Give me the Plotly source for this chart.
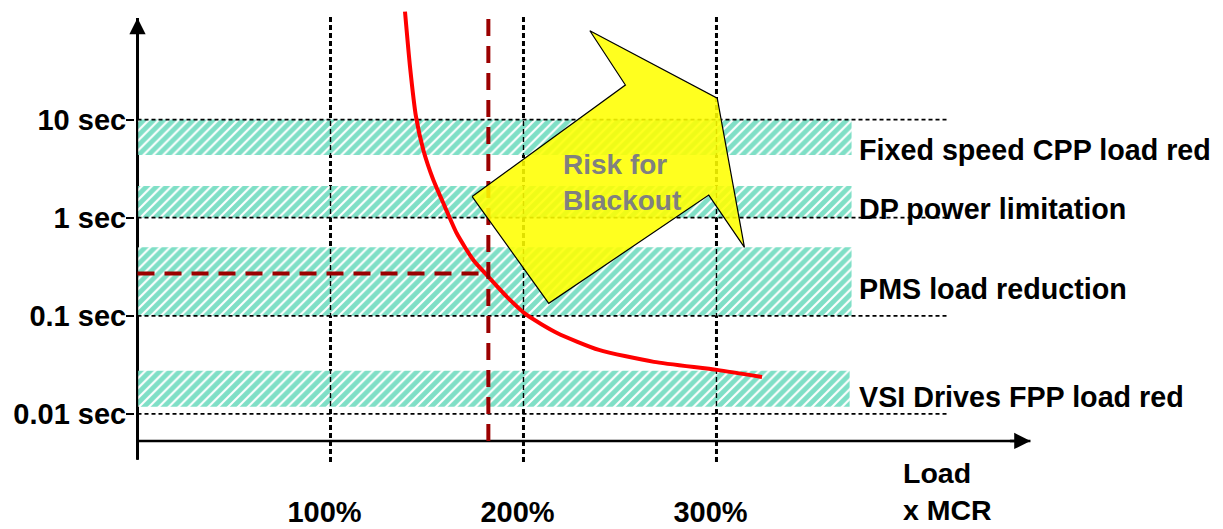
import numpy as np
import plotly.graph_objects as go

# ---------------- data ----------------
x_ticks = [100, 200, 300]
x_ticklabels = ["100%", "200%", "300%"]
y_ticks = [10, 1, 0.1, 0.01]
y_ticklabels = ["10 sec", "1 sec", "0.1 sec", "0.01 sec"]

# overload capability curve (load % MCR vs time, s)
curve_load = [138.6, 141.2, 144.3, 148.1, 153.3, 159.3, 165.4, 174.0, 181.8, 191.3,
              201.7, 217.4, 239.1, 267.6, 300.3, 323.6]
curve_time = [125.9, 34.6, 10.7, 4.90, 2.42, 1.29, 0.693, 0.371, 0.250, 0.157,
              0.102, 0.0668, 0.0449, 0.0339, 0.0281, 0.0238]

# load reduction bands
band_labels = ["Fixed speed CPP load red", "DP power limitation",
               "PMS load reduction", "VSI Drives FPP load red"]
band_top = [10, 2.1, 0.50, 0.0275]
band_bottom = [4.36, 1.0, 0.1, 0.0118]
band_label_y = [4.9, 1.23, 0.1875, 0.01486]
band_end = [370, 370, 370, 369]
band_label_x = 373.0

# operating limit (red dashed)
limit_load = 181.8
limit_time = 0.27
limit_top = 116

# "Risk for Blackout" arrow outline (load %, time s)
arrow_load = [173.4, 252.8, 234.4, 300.4, 314.5, 296.0, 213.1]
arrow_time = [1.64, 22.5, 80.5, 16.5, 0.499, 1.70, 0.134]
risk_text = "Risk for<br>Blackout"
risk_pos = (219.5, 2.26)

# axes extents
grid_end = 420
xaxis_end = 462.7
xaxis_level = 0.0053
yaxis_bottom, yaxis_top = 0.0034, 108.6
vline_bottom, vline_top = 0.00324, 113.7
xtitle = "Load<br>x MCR"
xtitle_x = 395.5
xtitle_paper_y = -0.047

FONT = "Liberation Sans"
HATCH = "#00BF8E"

fig = go.Figure()

def line(x, y, color="black", width=2, dash=None):
    fig.add_trace(go.Scatter(x=x, y=y, mode="lines",
                             line=dict(color=color, width=width, dash=dash),
                             hoverinfo="skip", showlegend=False))

# thick layers below the bands
for xv in x_ticks:
    line([xv, xv], [vline_bottom, vline_top], width=3, dash="5px,3px")
line([0, 0], [yaxis_bottom, yaxis_top], width=3)

# hatched bands
for top, bot, end in zip(band_top, band_bottom, band_end):
    fig.add_trace(go.Scatter(
        x=[0, end, end, 0, 0], y=[top, top, bot, bot, top],
        mode="lines", line=dict(width=0), fill="toself",
        fillcolor="white",
        fillpattern=dict(shape="/", fgcolor=HATCH, bgcolor="white",
                         size=7, solidity=0.7),
        hoverinfo="skip", showlegend=False))

# thin layers above the bands
for xv in x_ticks:
    line([xv, xv], [vline_bottom, vline_top], width=1.4, dash="5px,3px")
line([0, 0], [yaxis_bottom, yaxis_top], width=1.4)

# horizontal dashed levels
for yv in y_ticks:
    line([0, grid_end], [yv, yv], width=1.8, dash="4px,3px")

# x axis line
line([0, xaxis_end], [xaxis_level, xaxis_level], width=2.5)

# capability curve
fig.add_trace(go.Scatter(x=curve_load, y=curve_time, mode="lines",
                         line=dict(color="#FF0000", width=4, shape="spline", smoothing=0.6),
                         hoverinfo="skip", showlegend=False))

# limit lines
line([limit_load, limit_load], [xaxis_level, limit_top], color="#9B0000", width=4, dash="17px,10px")
line([0, limit_load], [limit_time, limit_time], color="#9B0000", width=4, dash="17px,10px")

# risk arrow
fig.add_trace(go.Scatter(x=arrow_load + arrow_load[:1], y=arrow_time + arrow_time[:1],
                         mode="lines", fill="toself",
                         fillcolor="rgba(255,255,0,0.88)",
                         line=dict(color="black", width=1.2),
                         hoverinfo="skip", showlegend=False))

BOLD = dict(family=FONT, color="black", weight="bold")
annotations = []
for lab, yv in zip(band_labels, band_label_y):
    annotations.append(dict(x=band_label_x, y=np.log10(yv), xref="x", yref="y",
                            text=lab, showarrow=False, xanchor="left", yanchor="middle",
                            font=dict(size=28.7, **BOLD)))
annotations.append(dict(x=risk_pos[0], y=np.log10(risk_pos[1]), xref="x", yref="y",
                        text=risk_text, showarrow=False, xanchor="left", yanchor="middle",
                        align="left",
                        font=dict(size=28, family=FONT, color="#808080", weight="bold")))
annotations.append(dict(x=xtitle_x, y=xtitle_paper_y, xref="x", yref="paper",
                        text=xtitle, showarrow=False, xanchor="left", yanchor="middle",
                        align="left", font=dict(size=28.5, **BOLD)))
# axis arrowheads
annotations.append(dict(x=0, y=np.log10(yaxis_top), xref="x", yref="y", text="",
                        showarrow=True, ax=0, ay=22, arrowhead=2, arrowsize=1.3,
                        arrowwidth=2.5, arrowcolor="black"))
annotations.append(dict(x=xaxis_end, y=np.log10(xaxis_level), xref="x", yref="y", text="",
                        showarrow=True, ax=-22, ay=0, arrowhead=2, arrowsize=1.3,
                        arrowwidth=2.5, arrowcolor="black"))

# the page body has an 8px margin, so the figure is sized/placed to compensate
fig.update_layout(
    width=1215, height=521,
    margin=dict(l=127, r=180, t=2, b=59),
    paper_bgcolor="white", plot_bgcolor="white",
    font=dict(size=28, **BOLD),
    annotations=annotations,
    xaxis=dict(range=[-1.3, 469.2], showgrid=False, zeroline=False, showline=False,
               tickvals=x_ticks, ticktext=x_ticklabels, ticks="",
               tickfont=dict(size=29, **BOLD),
               ticklabelstandoff=22, ticklabelshift=-6, automargin=False),
    yaxis=dict(type="log", range=[-2.572, 2.117], showgrid=False, zeroline=False,
               showline=False, tickvals=y_ticks, ticktext=y_ticklabels,
               tickfont=dict(size=29, **BOLD), ticklabelstandoff=-6,
               ticks="outside", ticklen=8, tickwidth=2, tickcolor="black",
               automargin=False),
)

fig.write_html("out.html")
